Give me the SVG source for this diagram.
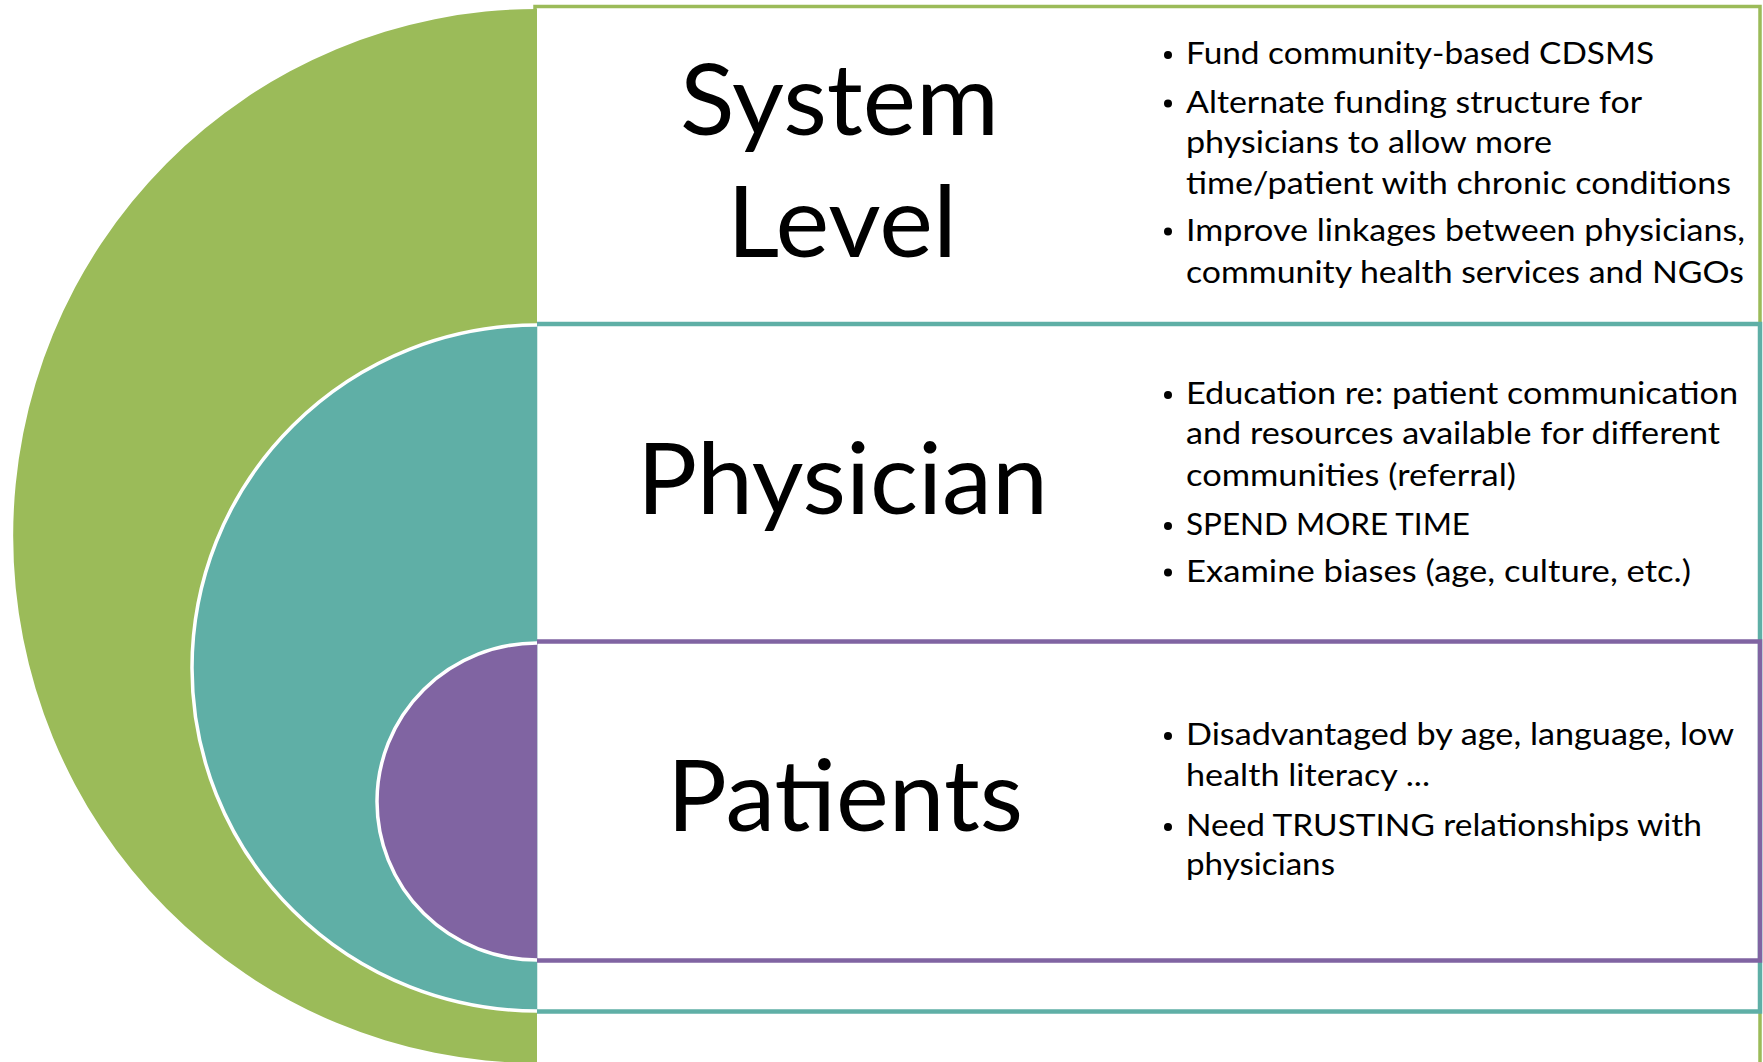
<svg xmlns="http://www.w3.org/2000/svg" width="1763" height="1062" viewBox="0 0 1763 1062">
  <style>
    .panel { fill: #ffffff; }
    .green-line { fill: none; stroke: #9BBB59; stroke-width: 3.5; }
    .teal-line { fill: none; stroke: #5FAFA6; stroke-width: 4.5; }
    .purple-line { fill: none; stroke: #8064A2; stroke-width: 4.5; }
    .arc-edge { fill: none; stroke: #ffffff; stroke-width: 3.5; }
    .title { font-family: Lato, "Open Sans", sans-serif; font-size: 98px; fill: #000000; text-anchor: middle; }
    .item { font-family: Lato, "Open Sans", sans-serif; font-size: 30px; fill: #000000; }
    .dot { fill: #000000; }
  </style>

  <rect width="1763" height="1062" fill="#ffffff"/>

  <!-- framed bands, outermost first -->
  <g id="band-system">
    <rect class="panel green-line" x="535" y="6.5" width="1225" height="1070"/>
  </g>
  <g id="band-physician">
    <rect class="panel teal-line" x="535" y="324" width="1225" height="687.5"/>
  </g>
  <g id="band-patients">
    <rect class="panel purple-line" x="535" y="641.5" width="1225" height="319"/>
  </g>

  <!-- nested half-discs on the left -->
  <g id="disc-system">
    <path d="M537 9 A524 527 0 0 0 537 1063 Z" fill="#9BBB59"/>
  </g>
  <g id="disc-physician">
    <path d="M537 325 A345 343 0 0 0 537 1011 Z" fill="#5FAFA6"/>
    <path class="arc-edge" d="M537 325 A345 343 0 0 0 537 1011"/>
  </g>
  <g id="disc-patients">
    <path d="M537 643 A160 158.5 0 0 0 537 960 Z" fill="#8064A2"/>
    <path class="arc-edge" d="M537 643 A160 158.5 0 0 0 537 960"/>
  </g>

  <!-- band headings -->
  <g id="label-system">
    <text class="title" x="839.5" y="135" textLength="319" lengthAdjust="spacingAndGlyphs">System</text>
    <text class="title" x="842" y="257" textLength="230" lengthAdjust="spacingAndGlyphs">Level</text>
  </g>
  <g id="label-physician">
    <text class="title" x="842.5" y="514" textLength="411" lengthAdjust="spacingAndGlyphs">Physician</text>
  </g>
  <g id="label-patients">
    <text class="title" x="845" y="831" textLength="356" lengthAdjust="spacingAndGlyphs">Patients</text>
  </g>

  <!-- bullet lists -->
  <g id="list-system">
    <circle class="dot" cx="1168" cy="55" r="4"/>
    <text class="item" x="1186" y="64" textLength="468" lengthAdjust="spacingAndGlyphs">Fund community-based CDSMS</text>
    <circle class="dot" cx="1168" cy="103.5" r="4"/>
    <text class="item" x="1186" y="112.5" textLength="456" lengthAdjust="spacingAndGlyphs">Alternate funding structure for</text>
    <text class="item" x="1186" y="153" textLength="366" lengthAdjust="spacingAndGlyphs">physicians to allow more</text>
    <text class="item" x="1186" y="194" textLength="545" lengthAdjust="spacingAndGlyphs">time/patient with chronic conditions</text>
    <circle class="dot" cx="1168" cy="231.5" r="4"/>
    <text class="item" x="1186" y="240.5" textLength="559" lengthAdjust="spacingAndGlyphs">Improve linkages between physicians,</text>
    <text class="item" x="1186" y="282.5" textLength="558" lengthAdjust="spacingAndGlyphs">community health services and NGOs</text>
  </g>
  <g id="list-physician">
    <circle class="dot" cx="1168" cy="395" r="4"/>
    <text class="item" x="1186" y="404" textLength="552" lengthAdjust="spacingAndGlyphs">Education re: patient communication</text>
    <text class="item" x="1186" y="444" textLength="534" lengthAdjust="spacingAndGlyphs">and resources available for different</text>
    <text class="item" x="1186" y="486" textLength="330" lengthAdjust="spacingAndGlyphs">communities (referral)</text>
    <circle class="dot" cx="1168" cy="526" r="4"/>
    <text class="item" x="1186" y="535" textLength="284" lengthAdjust="spacingAndGlyphs">SPEND MORE TIME</text>
    <circle class="dot" cx="1168" cy="572.5" r="4"/>
    <text class="item" x="1186" y="581.5" textLength="505" lengthAdjust="spacingAndGlyphs">Examine biases (age, culture, etc.)</text>
  </g>
  <g id="list-patients">
    <circle class="dot" cx="1168" cy="736" r="4"/>
    <text class="item" x="1186" y="745" textLength="548" lengthAdjust="spacingAndGlyphs">Disadvantaged by age, language, low</text>
    <text class="item" x="1186" y="786" textLength="244" lengthAdjust="spacingAndGlyphs">health literacy ...</text>
    <circle class="dot" cx="1168" cy="827" r="4"/>
    <text class="item" x="1186" y="836" textLength="516" lengthAdjust="spacingAndGlyphs">Need TRUSTING relationships with</text>
    <text class="item" x="1186" y="875" textLength="149" lengthAdjust="spacingAndGlyphs">physicians</text>
  </g>
</svg>
